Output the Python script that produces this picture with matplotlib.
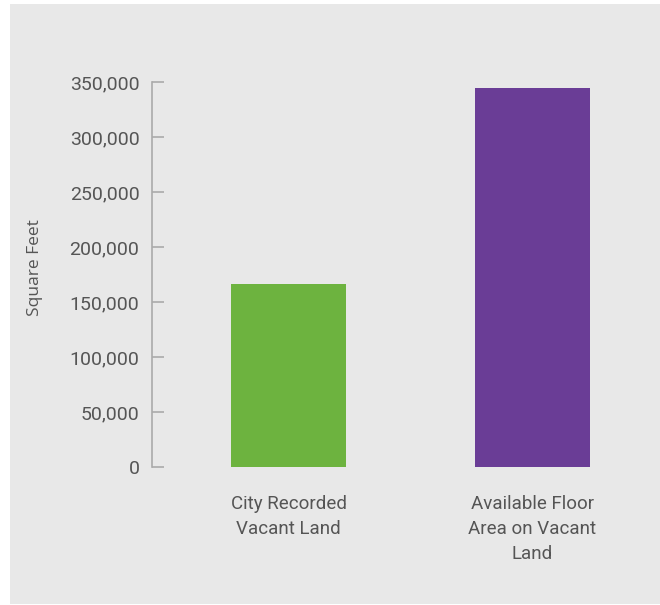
import matplotlib
matplotlib.use("Agg")
import matplotlib.pyplot as plt
from matplotlib.patches import Rectangle
from matplotlib.ticker import FuncFormatter

# Data
categories = ["City Recorded\nVacant Land", "Available Floor\nArea on Vacant\nLand"]
values = [166000, 345000]
bar_colors = ["#6db33f", "#6a3d96"]
y_ticks = [0, 50000, 100000, 150000, 200000, 250000, 300000, 350000]

bg = "#e8e8e8"
text_color = "#555555"
axis_color = "#aaaaaa"

fig = plt.figure(figsize=(6.6, 6.05), dpi=100)
fig.patch.set_facecolor("white")
# gray panel behind the chart
fig.patches.append(Rectangle((10 / 660, 1 / 605), 650 / 660, 600 / 605,
                             transform=fig.transFigure, facecolor=bg,
                             edgecolor="none", zorder=0))

ax = fig.add_axes([152 / 660, 138 / 605, 490 / 660, 385 / 605])
ax.set_facecolor("none")
ax.set_zorder(2)

x = range(len(categories))
ax.bar(x, values, width=0.471, color=bar_colors, zorder=2)

ax.set_xlim(-0.56, 1.45)
ax.set_ylim(0, 350000)
ax.set_yticks(y_ticks)
ax.yaxis.set_major_formatter(FuncFormatter(lambda v, p: f"{int(v):,}"))
ax.set_xticks(list(x))
ax.set_xticklabels(categories, linespacing=1.52)

for s in ["top", "right", "bottom"]:
    ax.spines[s].set_visible(False)
ax.spines["left"].set_color(axis_color)
ax.spines["left"].set_linewidth(1.2)

ax.tick_params(axis="y", direction="in", length=8.5, width=1.2,
               color=axis_color, pad=9, labelcolor=text_color)
ax.tick_params(axis="x", length=0, pad=20, labelcolor=text_color)
for lbl in ax.get_yticklabels():
    lbl.set_fontfamily(["Roboto", "DejaVu Sans"])
    lbl.set_fontsize(14)
for lbl in ax.get_xticklabels():
    lbl.set_fontfamily(["Roboto", "DejaVu Sans"])
    lbl.set_fontsize(13.5)
    lbl.set_verticalalignment("top")

t = fig.text(35 / 660, 1 - 268 / 605, "Square Feet", rotation=90,
             ha="center", va="center", color=text_color,
             family=["Open Sans", "DejaVu Sans"], fontsize=12.5)
t.set_zorder(3)

fig.savefig("out.png", dpi=100)
